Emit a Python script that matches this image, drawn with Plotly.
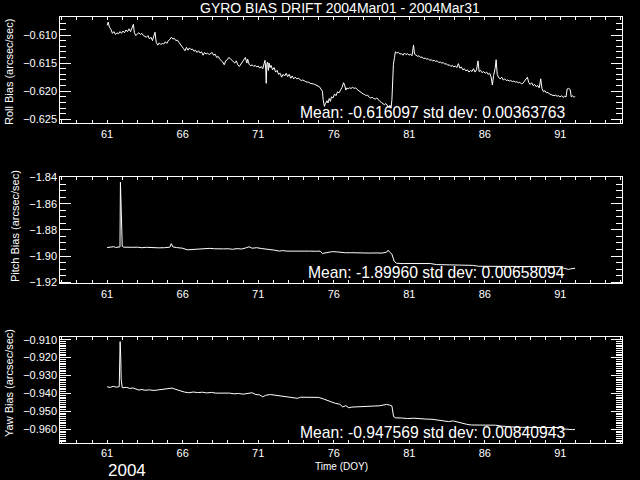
import plotly.graph_objects as go

# ---------------- data ----------------
roll_doy = [61.00, 61.07, 61.15, 61.25, 61.35, 61.45, 61.55, 61.65, 61.75, 61.85, 61.95, 62.05, 62.15, 62.25,
            62.35, 62.45, 62.55, 62.74, 62.80, 62.90, 63.00, 63.10, 63.20, 63.30, 63.40, 63.50, 63.60, 63.70,
            63.80, 63.90, 64.00, 64.17, 64.25, 64.35, 64.45, 64.55, 64.65, 64.75, 64.85, 64.95, 65.05, 65.15,
            65.25, 65.35, 65.45, 65.55, 65.65, 65.75, 65.85, 65.95, 66.05, 66.15, 66.25, 66.35, 66.45, 66.55,
            66.65, 66.75, 66.85, 66.95, 67.05, 67.15, 67.25, 67.35, 67.45, 67.55, 67.65, 67.75, 67.85, 67.95,
            68.05, 68.15, 68.25, 68.35, 68.45, 68.55, 68.65, 68.75, 68.85, 68.95, 69.05, 69.15, 69.25, 69.35,
            69.45, 69.55, 69.65, 69.75, 69.85, 69.95, 70.05, 70.15, 70.25, 70.30, 70.40, 70.50, 70.60, 70.70,
            70.80, 70.90, 71.00, 71.10, 71.20, 71.30, 71.40, 71.45, 71.50, 71.53, 71.57, 71.62, 71.67, 71.72,
            71.78, 71.85, 71.95, 72.05, 72.15, 72.25, 72.35, 72.45, 72.55, 72.65, 72.75, 72.85, 72.95, 73.05,
            73.15, 73.25, 73.35, 73.45, 73.55, 73.65, 73.75, 73.85, 73.95, 74.05, 74.15, 74.25, 74.35, 74.45,
            74.55, 74.65, 74.75, 74.85, 74.95, 75.05, 75.15, 75.25, 75.30, 75.38, 75.45, 75.55, 75.62, 75.70,
            75.78, 75.85, 75.95, 76.05, 76.15, 76.25, 76.35, 76.45, 76.55, 76.65, 76.72, 76.80, 76.88, 76.95,
            77.05, 77.15, 77.25, 77.35, 77.45, 77.55, 77.65, 77.75, 77.85, 77.95, 78.05, 78.15, 78.25, 78.35,
            78.45, 78.55, 78.65, 78.75, 78.85, 78.95, 79.05, 79.15, 79.25, 79.35, 79.45, 79.55, 79.65, 79.72,
            79.80, 79.85, 79.95, 80.02, 80.08, 80.18, 80.28, 80.38, 80.48, 80.58, 80.68, 80.78, 80.88, 80.98,
            81.08, 81.18, 81.28, 81.35, 81.45, 81.55, 81.65, 81.75, 81.85, 81.95, 82.05, 82.15, 82.25, 82.35,
            82.45, 82.55, 82.65, 82.75, 82.85, 82.95, 83.05, 83.15, 83.25, 83.35, 83.45, 83.55, 83.65, 83.75,
            83.85, 83.95, 84.05, 84.15, 84.25, 84.35, 84.45, 84.55, 84.65, 84.75, 84.85, 84.95, 85.05, 85.15,
            85.25, 85.35, 85.45, 85.55, 85.62, 85.72, 85.82, 85.92, 86.02, 86.12, 86.22, 86.32, 86.42, 86.50,
            86.58, 86.68, 86.75, 86.82, 86.92, 87.02, 87.12, 87.22, 87.32, 87.42, 87.52, 87.62, 87.72, 87.82,
            87.92, 88.02, 88.12, 88.22, 88.32, 88.42, 88.52, 88.62, 88.72, 88.82, 88.90, 89.00, 89.10, 89.20,
            89.30, 89.40, 89.50, 89.60, 89.70, 89.78, 89.88, 89.98, 90.08, 90.18, 90.28, 90.38, 90.48, 90.58,
            90.68, 90.78, 90.88, 90.98, 91.08, 91.18, 91.28, 91.38, 91.45, 91.55, 91.65, 91.72, 91.80, 91.90,
            91.97]
roll_bias = [-0.6083, -0.6077, -0.6086, -0.6090, -0.6097, -0.6094, -0.6099, -0.6096, -0.6098, -0.6094, -0.6097,
             -0.6093, -0.6096, -0.6091, -0.6094, -0.6089, -0.6094, -0.6081, -0.6096, -0.6101, -0.6098, -0.6096,
             -0.6099, -0.6097, -0.6101, -0.6103, -0.6104, -0.6101, -0.6107, -0.6104, -0.6110, -0.6095, -0.6113,
             -0.6118, -0.6114, -0.6117, -0.6115, -0.6116, -0.6112, -0.6115, -0.6110, -0.6108, -0.6104, -0.6107,
             -0.6106, -0.6110, -0.6109, -0.6113, -0.6116, -0.6119, -0.6124, -0.6128, -0.6122, -0.6127, -0.6123,
             -0.6126, -0.6125, -0.6129, -0.6127, -0.6131, -0.6128, -0.6132, -0.6130, -0.6136, -0.6131, -0.6134,
             -0.6132, -0.6135, -0.6133, -0.6131, -0.6136, -0.6134, -0.6140, -0.6138, -0.6143, -0.6145, -0.6148,
             -0.6153, -0.6146, -0.6144, -0.6140, -0.6142, -0.6145, -0.6148, -0.6150, -0.6146, -0.6153, -0.6156,
             -0.6152, -0.6150, -0.6146, -0.6140, -0.6150, -0.6143, -0.6152, -0.6155, -0.6153, -0.6156, -0.6154,
             -0.6157, -0.6155, -0.6159, -0.6156, -0.6160, -0.6150, -0.6145, -0.6162, -0.6186, -0.6152, -0.6148,
             -0.6163, -0.6150, -0.6158, -0.6154, -0.6162, -0.6158, -0.6166, -0.6163, -0.6170, -0.6168, -0.6175,
             -0.6170, -0.6173, -0.6168, -0.6174, -0.6170, -0.6177, -0.6173, -0.6178, -0.6175, -0.6178, -0.6177,
             -0.6179, -0.6181, -0.6180, -0.6182, -0.6183, -0.6184, -0.6184, -0.6186, -0.6186, -0.6187, -0.6188,
             -0.6189, -0.6190, -0.6192, -0.6196, -0.6200, -0.6215, -0.6227, -0.6222, -0.6217, -0.6221, -0.6213,
             -0.6218, -0.6210, -0.6212, -0.6205, -0.6208, -0.6201, -0.6203, -0.6198, -0.6193, -0.6185, -0.6189,
             -0.6198, -0.6194, -0.6196, -0.6194, -0.6195, -0.6193, -0.6195, -0.6194, -0.6197, -0.6199, -0.6202,
             -0.6204, -0.6205, -0.6206, -0.6208, -0.6207, -0.6211, -0.6212, -0.6211, -0.6213, -0.6214, -0.6212,
             -0.6216, -0.6218, -0.6220, -0.6222, -0.6224, -0.6222, -0.6226, -0.6229, -0.6225, -0.6229, -0.6215,
             -0.6152, -0.6140, -0.6130, -0.6132, -0.6131, -0.6134, -0.6133, -0.6136, -0.6132, -0.6135, -0.6133,
             -0.6136, -0.6134, -0.6137, -0.6118, -0.6134, -0.6136, -0.6138, -0.6137, -0.6140, -0.6139, -0.6142,
             -0.6141, -0.6143, -0.6142, -0.6145, -0.6144, -0.6146, -0.6145, -0.6147, -0.6146, -0.6149, -0.6148,
             -0.6150, -0.6149, -0.6152, -0.6151, -0.6154, -0.6153, -0.6156, -0.6154, -0.6157, -0.6155, -0.6158,
             -0.6151, -0.6159, -0.6157, -0.6162, -0.6160, -0.6164, -0.6162, -0.6166, -0.6163, -0.6165, -0.6160,
             -0.6166, -0.6162, -0.6146, -0.6165, -0.6163, -0.6167, -0.6165, -0.6168, -0.6166, -0.6170, -0.6168,
             -0.6175, -0.6189, -0.6172, -0.6160, -0.6144, -0.6170, -0.6176, -0.6178, -0.6175, -0.6180, -0.6178,
             -0.6181, -0.6180, -0.6182, -0.6181, -0.6183, -0.6182, -0.6184, -0.6183, -0.6185, -0.6184, -0.6187,
             -0.6186, -0.6183, -0.6180, -0.6175, -0.6184, -0.6188, -0.6185, -0.6190, -0.6188, -0.6192, -0.6190,
             -0.6194, -0.6178, -0.6195, -0.6201, -0.6199, -0.6203, -0.6202, -0.6205, -0.6206, -0.6207, -0.6208,
             -0.6207, -0.6209, -0.6208, -0.6210, -0.6208, -0.6211, -0.6209, -0.6210, -0.6196, -0.6195, -0.6197,
             -0.6210, -0.6208, -0.6211, -0.6209]

pitch_doy = [61.00, 61.30, 61.45, 61.55, 61.75, 61.85, 61.88, 61.92, 61.95, 62.00, 62.10, 62.40, 62.70, 63.00,
             63.30, 63.60, 64.00, 64.40, 64.80, 65.15, 65.25, 65.35, 65.60, 66.00, 66.30, 66.60, 66.90, 67.20,
             67.50, 67.80, 68.10, 68.40, 68.70, 69.00, 69.30, 69.60, 69.90, 70.20, 70.40, 70.60, 70.90, 71.20,
             71.50, 71.80, 72.10, 72.40, 72.60, 72.90, 73.20, 73.60, 74.00, 74.40, 74.80, 75.10, 75.25, 75.40,
             75.60, 75.90, 76.20, 76.50, 76.80, 77.10, 77.40, 77.70, 78.00, 78.40, 78.80, 79.20, 79.50, 79.60,
             79.70, 79.85, 80.00, 80.15, 80.60, 81.20, 81.80, 82.40, 82.80, 83.40, 84.00, 84.60, 85.20, 85.60,
             86.20, 86.80, 87.40, 88.00, 88.60, 89.20, 89.80, 90.40, 91.00, 91.20, 91.40, 91.55, 91.70, 91.85,
             91.97]
pitch_bias = [-1.8935, -1.8932, -1.8928, -1.8934, -1.8933, -1.8930, -1.8436, -1.8600, -1.8842, -1.8925, -1.8932,
              -1.8930, -1.8933, -1.8932, -1.8936, -1.8933, -1.8937, -1.8937, -1.8936, -1.8932, -1.8905, -1.8930,
              -1.8935, -1.8940, -1.8952, -1.8950, -1.8944, -1.8942, -1.8945, -1.8941, -1.8944, -1.8942, -1.8945,
              -1.8944, -1.8948, -1.8943, -1.8946, -1.8937, -1.8929, -1.8940, -1.8936, -1.8942, -1.8945, -1.8950,
              -1.8955, -1.8962, -1.8958, -1.8962, -1.8961, -1.8962, -1.8962, -1.8962, -1.8963, -1.8962, -1.8980,
              -1.8978, -1.8970, -1.8966, -1.8968, -1.8972, -1.8975, -1.8974, -1.8976, -1.8975, -1.8976, -1.8977,
              -1.8976, -1.8977, -1.8970, -1.8955, -1.8970, -1.8985, -1.9040, -1.9055, -1.9057, -1.9057, -1.9058,
              -1.9057, -1.9065, -1.9066, -1.9068, -1.9070, -1.9071, -1.9078, -1.9078, -1.9077, -1.9079, -1.9079,
              -1.9080, -1.9080, -1.9081, -1.9082, -1.9081, -1.9092, -1.9097, -1.9102, -1.9097, -1.9092, -1.9093]

yaw_doy = [61.00, 61.20, 61.40, 61.60, 61.80, 61.86, 61.90, 61.93, 62.00, 62.30, 62.50, 62.70, 62.90, 63.10,
           63.30, 63.50, 63.80, 64.10, 64.40, 64.70, 65.00, 65.30, 65.50, 65.80, 66.10, 66.40, 66.70, 67.00,
           67.30, 67.60, 67.90, 68.20, 68.50, 68.80, 69.10, 69.40, 69.70, 70.00, 70.30, 70.60, 70.80, 71.10,
           71.30, 71.50, 71.80, 72.10, 72.40, 72.70, 73.00, 73.30, 73.60, 73.80, 74.10, 74.40, 74.70, 75.00,
           75.30, 75.60, 75.90, 76.10, 76.40, 76.60, 76.80, 77.00, 77.20, 77.50, 77.80, 78.10, 78.40, 78.70,
           79.00, 79.30, 79.50, 79.70, 79.85, 79.96, 80.10, 80.50, 80.90, 81.30, 81.70, 82.10, 82.50, 82.90,
           83.30, 83.60, 83.90, 84.20, 84.50, 84.80, 85.10, 85.50, 85.90, 86.30, 86.70, 87.10, 87.50, 88.00,
           88.50, 89.00, 89.50, 90.00, 90.50, 91.00, 91.20, 91.40, 91.60, 91.80, 91.97]
yaw_bias = [-0.9363, -0.9366, -0.9360, -0.9365, -0.9362, -0.9111, -0.9195, -0.9321, -0.9368, -0.9366, -0.9372,
            -0.9369, -0.9375, -0.9381, -0.9378, -0.9382, -0.9380, -0.9383, -0.9380, -0.9378, -0.9375, -0.9370,
            -0.9376, -0.9385, -0.9392, -0.9396, -0.9392, -0.9395, -0.9393, -0.9397, -0.9394, -0.9398, -0.9397,
            -0.9400, -0.9398, -0.9402, -0.9400, -0.9404, -0.9401, -0.9396, -0.9405, -0.9408, -0.9419, -0.9410,
            -0.9406, -0.9409, -0.9412, -0.9415, -0.9418, -0.9423, -0.9427, -0.9421, -0.9421, -0.9421, -0.9421,
            -0.9422, -0.9430, -0.9440, -0.9447, -0.9455, -0.9460, -0.9475, -0.9468, -0.9480, -0.9476, -0.9474,
            -0.9472, -0.9474, -0.9472, -0.9470, -0.9469, -0.9466, -0.9461, -0.9465, -0.9470, -0.9529, -0.9536,
            -0.9537, -0.9540, -0.9538, -0.9542, -0.9543, -0.9544, -0.9548, -0.9550, -0.9557, -0.9553, -0.9560,
            -0.9568, -0.9572, -0.9576, -0.9577, -0.9576, -0.9575, -0.9577, -0.9582, -0.9586, -0.9588, -0.9589,
            -0.9589, -0.9590, -0.9589, -0.9590, -0.9590, -0.9598, -0.9600, -0.9598, -0.9602, -0.9600]

title_text = "GYRO BIAS DRIFT 2004Mar01 - 2004Mar31"
y_titles = ["Roll Bias (arcsec/sec)", "Pitch Bias (arcsec/sec)", "Yaw Bias (arcsec/sec)"]
stats_text = ["Mean: -0.616097 std dev: 0.00363763",
              "Mean: -1.89960 std dev: 0.00658094",
              "Mean: -0.947569 std dev: 0.00840943"]
x_title = "Time (DOY)"
year_text = "2004"

# ---------------- layout helpers ----------------
W, H = 640, 480
FONT = "Liberation Sans"
x_dom = [60.3 / W, 622.3 / W]
panels = [  # top px, bottom px, y range, major, minor, format
    dict(top=17.3, bot=123.3, rng=[-0.62571, -0.60685], dt=0.005, t0=-0.625, mdt=0.001, fmt=".3f"),
    dict(top=177.3, bot=283.3, rng=[-1.9208, -1.8398], dt=0.02, t0=-1.92, mdt=0.005, fmt=".2f"),
    dict(top=337.3, bot=443.0, rng=[-0.96764, -0.90866], dt=0.01, t0=-0.96, mdt=0.001, fmt=".3f"),
]
series = [(roll_doy, roll_bias), (pitch_doy, pitch_bias), (yaw_doy, yaw_bias)]

fig = go.Figure()
layout = dict(width=W, height=H, margin=dict(l=0, r=0, t=0, b=0, autoexpand=False),
              paper_bgcolor="black", plot_bgcolor="black", showlegend=False,
              font=dict(family=FONT, color="white", size=11))

for i, (p, (xs, ys)) in enumerate(zip(panels, series), start=1):
    sfx = "" if i == 1 else str(i)
    fig.add_trace(go.Scatter(x=xs, y=ys, mode="lines", line=dict(color="white", width=1),
                             xaxis="x" + sfx, yaxis="y" + sfx, hoverinfo="skip"))
    ydom = [1 - p["bot"] / H, 1 - p["top"] / H]
    layout["xaxis" + sfx] = dict(
        domain=x_dom, range=[57.9, 95.1], anchor="y" + sfx, automargin=False,
        showline=True, linecolor="white", linewidth=1, mirror="ticks",
        ticks="inside", ticklen=3, tickcolor="white", tickwidth=1,
        tick0=61, dtick=5, showgrid=False, zeroline=False,
        tickfont=dict(size=11, color="white", family=FONT),
        minor=dict(dtick=1, tick0=61, ticks="inside", ticklen=3, tickcolor="white", showgrid=False),
    )
    layout["yaxis" + sfx] = dict(
        domain=ydom, range=p["rng"], anchor="x" + sfx, automargin=False,
        showline=True, linecolor="white", linewidth=1, mirror="ticks",
        ticks="inside", ticklen=11, tickcolor="white", tickwidth=1,
        tick0=p["t0"], dtick=p["dt"], tickformat=p["fmt"],
        showgrid=False, zeroline=False,
        tickfont=dict(size=11, color="white", family=FONT),
        minor=dict(dtick=p["mdt"], tick0=p["t0"], ticks="inside", ticklen=6, tickcolor="white", showgrid=False),
    )

annotations = []
annotations.append(dict(text=title_text, x=340 / W, y=1 - 8 / H, xref="paper", yref="paper",
                        showarrow=False, xanchor="center", yanchor="middle",
                        font=dict(size=14, color="white", family=FONT)))
for txt, xp, yp in zip(y_titles, [9, 15, 9], [72, 226, 383]):
    annotations.append(dict(text=txt, x=xp / W, y=1 - yp / H, xref="paper", yref="paper",
                            showarrow=False, textangle=-90, xanchor="center", yanchor="middle",
                            font=dict(size=11, color="white", family=FONT)))
for txt, yp in zip(stats_text, [112, 272, 432]):
    annotations.append(dict(text=txt, x=567 / W, y=1 - yp / H, xref="paper", yref="paper",
                            showarrow=False, xanchor="right", yanchor="middle",
                            font=dict(size=15.7, color="white", family=FONT)))
annotations.append(dict(text=x_title, x=341 / W, y=1 - 466 / H, xref="paper", yref="paper",
                        showarrow=False, xanchor="center", yanchor="middle",
                        font=dict(size=10, color="white", family=FONT)))
annotations.append(dict(text=year_text, x=127 / W, y=1 - 470 / H, xref="paper", yref="paper",
                        showarrow=False, xanchor="center", yanchor="middle",
                        font=dict(size=17, color="white", family=FONT)))
layout["annotations"] = annotations

fig.update_layout(**layout)
fig.write_html("out.html", config={"displayModeBar": False},
               post_script="document.body.style.margin='0';document.body.style.background='black';")
